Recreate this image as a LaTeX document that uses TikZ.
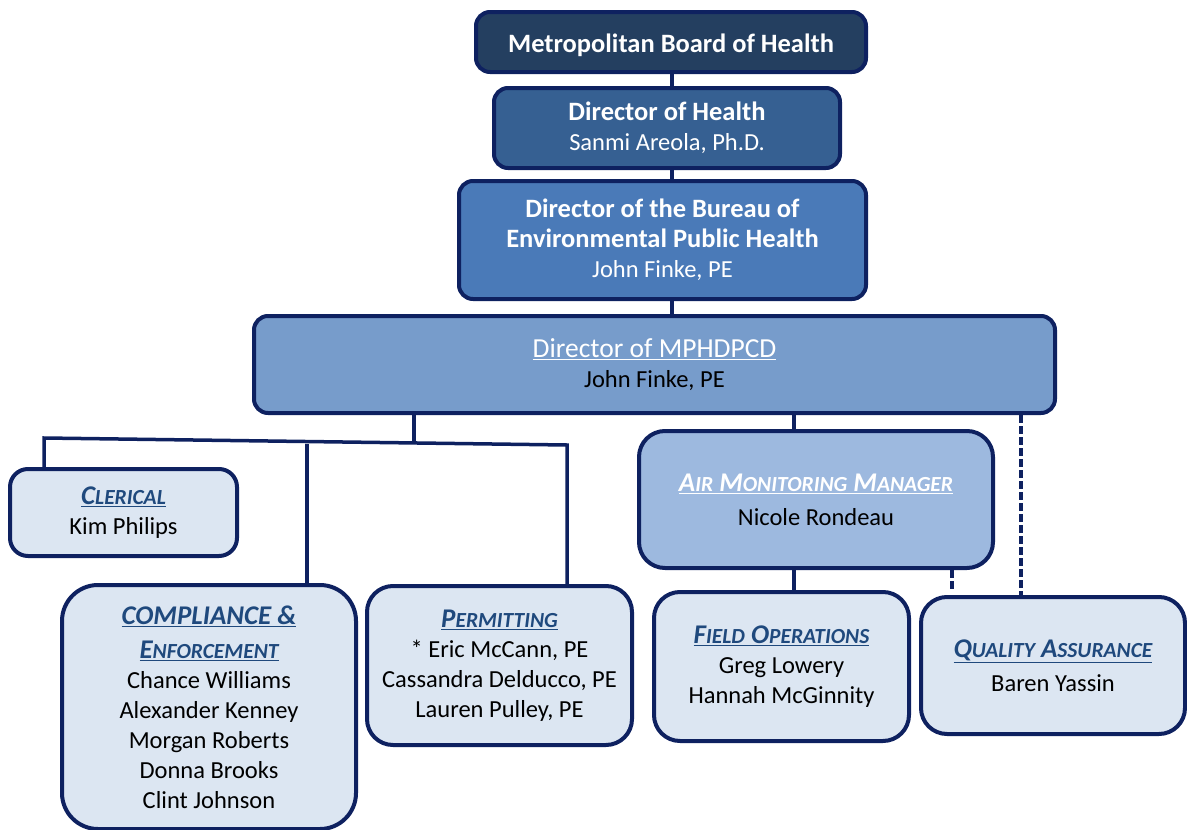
\documentclass[tikz,border=0pt]{standalone}
\usepackage{fontspec}
\setmainfont{Carlito}
\definecolor{navy}{HTML}{0E2160}
\definecolor{boardfill}{HTML}{243F60}
\definecolor{healthfill}{HTML}{366092}
\definecolor{bureaufill}{HTML}{4A7AB8}
\definecolor{mphfill}{HTML}{779CCB}
\definecolor{airfill}{HTML}{9DB9DF}
\definecolor{lightfill}{HTML}{DCE6F2}
\definecolor{titleblue}{HTML}{1F497D}
\newcommand\smc[2]{#1{\fontsize{21.5}{22}\selectfont #2}}
\newcommand\bt[1]{{\fontsize{26.5}{30}\selectfont\bfseries #1}}
\newcommand\sectitle[1]{{\fontsize{27}{30}\selectfont\itshape\bfseries\underline{#1}}}
\tikzset{
  box/.style={draw=navy, line width=4, rounded corners=14, align=center, inner sep=0,
    font=\fontsize{24.5}{30}\selectfont, execute at begin node={\rule{0pt}{25pt}}},
  bottombox/.style={box, fill=lightfill, rounded corners=26, text=black},
  conn/.style={navy, line width=3.5},
  dconn/.style={navy, line width=4.5, dash pattern=on 8 off 3}
}
\begin{document}
\begin{tikzpicture}[x=1pt,y=-1pt]
\useasboundingbox (0,0) rectangle (1187,830);
\node[box, fill=boardfill, text=white, minimum width=390, minimum height=60] (board) at (671,42)
  {\bt{Metropolitan Board of Health}};
\node[box, fill=healthfill, text=white, minimum width=346, minimum height=80] (health) at (667,128)
  {\bt{Director of Health}\\Sanmi Areola, Ph.D.};
\node[box, fill=bureaufill, text=white, minimum width=407, minimum height=118] (bureau) at (662.5,240)
  {\bt{Director of the Bureau of}\\\bt{Environmental Public Health}\\John Finke, PE};
\node[box, fill=mphfill, text=black, minimum width=801, minimum height=97] (mph) at (654.5,364.5)
  {\textcolor{white}{\fontsize{27.5}{30}\selectfont\underline{Director of MPHDPCD}}\\John Finke, PE};
\node[bottombox, rounded corners=18, minimum width=227, minimum height=87] (clerical) at (123.5,512.5)
  {\textcolor{titleblue}{\sectitle{\smc{C}{LERICAL}}}\\Kim Philips};
\node[bottombox, rounded corners=36, minimum width=294, minimum height=244] (compliance) at (209,707)
  {\textcolor{titleblue}{\sectitle{COMPLIANCE \&}}\\[4pt]
   \textcolor{titleblue}{\sectitle{\smc{E}{NFORCEMENT}}}\\Chance Williams\\Alexander Kenney\\Morgan Roberts\\Donna Brooks\\Clint Johnson};
\node[bottombox, minimum width=265, minimum height=159] (permitting) at (499.5,665.5)
  {\textcolor{titleblue}{\sectitle{\smc{P}{ERMITTING}}}\\* Eric McCann, PE\\Cassandra Delducco, PE\\Lauren Pulley, PE};
\node[box, fill=airfill, rounded corners=26, text=black, minimum width=354, minimum height=137] (air) at (816,499.5)
  {\textcolor{white}{\sectitle{\smc{A}{IR} \smc{M}{ONITORING} \smc{M}{ANAGER}}}\\[4pt]Nicole Rondeau};
\node[bottombox, minimum width=255, minimum height=149] (field) at (781.5,666.5)
  {\textcolor{titleblue}{\sectitle{\smc{F}{IELD} \smc{O}{PERATIONS}}}\\Greg Lowery\\Hannah McGinnity};
\node[bottombox, minimum width=264, minimum height=137] (qa) at (1053,665.5)
  {\textcolor{titleblue}{\sectitle{\smc{Q}{UALITY} \smc{A}{SSURANCE}}}\\[4pt]Baren Yassin};
% connectors
\draw[conn] (board.south -| 672,0) -- (health.north -| 672,0);
\draw[conn] (health.south -| 672,0) -- (bureau.north -| 672,0);
\draw[conn] (bureau.south -| 672,0) -- (mph.north -| 672,0);
\coordinate (bus) at (414,442);
\draw[conn] (mph.south -| bus) -- (bus);
\draw[conn] (clerical.north -| 44,0) -- (44,438) -- (567,445) -- (permitting.north -| 567,0);
\draw[conn] (307,444) -- (compliance.north -| 307,0);
\draw[conn] (mph.south -| 794,0) -- (air.north -| 794,0);
\draw[conn] (air.south -| 794,0) -- (field.north -| 794,0);
\coordinate (qaend) at (952,591);
\draw[dconn] (air.south -| qaend) -- (qaend);
\draw[dconn] (mph.south -| 1021,0) -- (qa.north -| 1021,0);
\end{tikzpicture}
\end{document}
